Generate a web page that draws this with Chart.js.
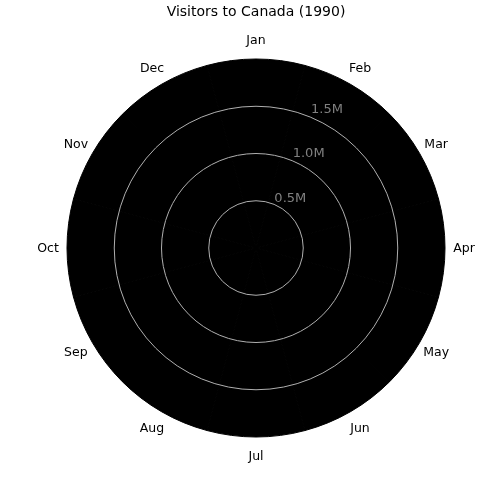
<!DOCTYPE html>
<html>
<head>
<meta charset="utf-8">
<script src="https://cdn.jsdelivr.net/npm/chart.js@4/dist/chart.umd.min.js"></script>
<style>
html,body{margin:0;padding:0;background:#fff;}
#c{display:block;}
</style>
</head>
<body>
<canvas id="c" width="500" height="500"></canvas>
<script>
// Data: every wedge reaches the outer edge of the disc
const months = ["Jan","Feb","Mar","Apr","May","Jun","Jul","Aug","Sep","Oct","Nov","Dec"];
const visitors = [1970000,1970000,1970000,1970000,1970000,1970000,1970000,1970000,1970000,1970000,1970000,1970000];
const radialMax = 1970000;
const tickValues = [500000, 1000000, 1500000];
const tickLabels = ["0.5M", "1.0M", "1.5M"];
const titleText = "Visitors to Canada (1990)";

const FONT = "'DejaVu Sans', sans-serif";

const labelPlugin = {
  id: 'polarLabels',
  afterDraw(chart) {
    const s = chart.scales.r;
    const ctx = chart.ctx;
    ctx.save();
    // month labels, centred at a fixed radius
    ctx.font = "12.5px " + FONT;
    ctx.fillStyle = "#000";
    ctx.textAlign = "center";
    ctx.textBaseline = "middle";
    const rl = s.drawingArea + 19;
    months.forEach((m, i) => {
      const a = i * Math.PI * 2 / months.length;
      ctx.fillText(m, s.xCenter + rl * Math.sin(a), s.yCenter - rl * Math.cos(a) + 1);
    });
    // radial tick labels at 22.5 degrees
    ctx.font = "13px " + FONT;
    ctx.fillStyle = "#808080";
    ctx.textAlign = "left";
    ctx.textBaseline = "bottom";
    const ta = 22.5 * Math.PI / 180;
    tickValues.forEach((v, i) => {
      const r = s.getDistanceFromCenterForValue(v);
      ctx.fillText(tickLabels[i], s.xCenter + r * Math.sin(ta), s.yCenter - r * Math.cos(ta) + 1);
    });
    ctx.restore();
  }
};

new Chart(document.getElementById('c'), {
  type: 'polarArea',
  data: {
    labels: months,
    datasets: [{
      data: visitors,
      backgroundColor: '#000000',
      borderColor: '#000000',
      borderWidth: 1
    }]
  },
  options: {
    responsive: false,
    animation: false,
    startAngle: -15,
    layout: { padding: { left: 67, right: 55, top: 0, bottom: 63 } },
    plugins: {
      legend: { display: false },
      tooltip: { enabled: false },
      title: {
        display: true,
        text: titleText,
        color: '#000',
        font: { family: FONT, size: 14, weight: 'normal', lineHeight: 1.2 },
        padding: { top: 4, bottom: 38.2 }
      }
    },
    scales: {
      r: {
        min: 0,
        max: radialMax,
        startAngle: -15,
        z: 1,
        ticks: { display: false, stepSize: 500000 },
        pointLabels: { display: false },
        angleLines: { display: false },
        grid: {
          z: 1,
          circular: true,
          lineWidth: 1,
          color: (ctx) => (ctx.tick && ctx.tick.value >= radialMax) ? 'rgba(0,0,0,0)' : '#b0b0b0'
        }
      }
    }
  },
  plugins: [labelPlugin]
});
</script>
</body>
</html>
